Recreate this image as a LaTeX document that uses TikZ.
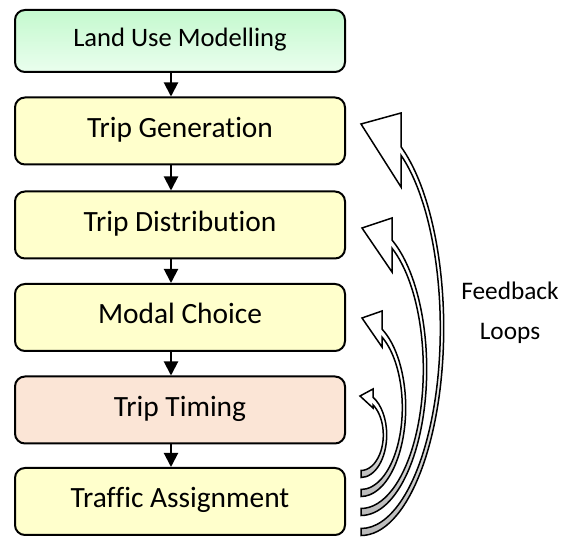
\documentclass[tikz,border=0pt]{standalone}
\usepackage{fontspec}
\setmainfont{Carlito}[Ligatures=NoCommon]
\usetikzlibrary{arrows.meta}

\definecolor{boxyellow}{RGB}{255,255,204}
\definecolor{boxpeach}{RGB}{251,229,214}
\definecolor{mintTop}{RGB}{196,249,206}
\definecolor{mintBot}{RGB}{234,254,238}
\definecolor{tailgray}{RGB}{185,185,185}

% One feedback loop: a curved band leaving the bottom box and ending in a
% hollow arrow head pointing back up-left.
% #1 centre y, #2 x radius, #3 y radius, #4 x of the head's back edge,
% #5/#6 head tip, #7 top of back edge, #8 bottom of back edge
\newcommand\fbloop[8]{%
  \pgfmathsetmacro\fbOut{acos((#4-361)/(#2+1.7))}%
  \pgfmathsetmacro\fbIn{acos((#4-361)/(#2-1.7))}%
  \pgfmathsetmacro\fbYin{#1-(#3-3.5)*sin(\fbIn)}%
  \path[fbband] (361,#1+#3-3.5) -- (361,#1+#3+3.5)
    arc[start angle=90, end angle=-\fbOut, x radius=#2+1.7, y radius=#3+3.5]
    -- (#4,#7) -- (#5,#6) -- (#4,#8) -- (#4,\fbYin)
    arc[start angle=-\fbIn, end angle=90, x radius=#2-1.7, y radius=#3-3.5]
    -- cycle;%
}

\tikzset{
  stage/.style={draw=black, line width=2pt, rounded corners=10pt,
    minimum width=330pt, minimum height=67pt, inner sep=0pt,
    fill=boxyellow, text=black,
    font=\fontsize{29.4}{33}\selectfont, text height=19pt, text depth=6.5pt},
  flow/.style={draw=black, line width=2pt,
    -{Triangle[width=14pt,length=14pt]}},
  fbband/.style={draw=black, line width=1.5pt, line join=miter,
    top color=white, bottom color=tailgray, middle color=white}
}

\begin{document}
\begin{tikzpicture}[x=1pt, y=-1pt]
  \useasboundingbox (0,0) rectangle (563,537);

  % model stages
  \node[stage, minimum height=62pt, top color=mintTop, bottom color=mintBot,
        font=\fontsize{26.6}{30}\selectfont, text height=17.5pt, text depth=5.5pt]
        (lum) at (180,41) {Land Use Modelling};
  \node[stage] (gen) at (180,131)   {Trip Generation};
  \node[stage] (dist) at (180,225)  {Trip Distribution};
  \node[stage] (modal) at (180,317.5) {Modal Choice};
  \node[stage, fill=boxpeach] (timing) at (180,410) {Trip Timing};
  \node[stage] (assign) at (180,501.5) {Traffic Assignment};

  % sequence connectors
  \coordinate (ax) at (171,0);
  \draw[flow] (lum.south -| ax) -- (gen.north -| ax);
  \draw[flow] (gen.south -| ax) -- (dist.north -| ax);
  \draw[flow] (dist.south -| ax) -- (modal.north -| ax);
  \draw[flow] (modal.south -| ax) -- (timing.north -| ax);
  \draw[flow] (timing.south -| ax) -- (assign.north -| ax);

  % feedback loops, outermost first
  \fbloop{328.2}{81}{203.8}{401}{361}{124}{113}{187}
  \fbloop{369.1}{64}{142.9}{392}{362}{228}{218}{272}
  \fbloop{407.6}{43}{85.4}{382}{362}{318}{311}{347}
  \fbloop{434.9}{24}{39.1}{373}{360}{396}{389}{408}

  \node[align=center, font=\fontsize{25.3}{40}\selectfont] (fb) at (510,313)
    {Feedback\\Loops};
\end{tikzpicture}
\end{document}
